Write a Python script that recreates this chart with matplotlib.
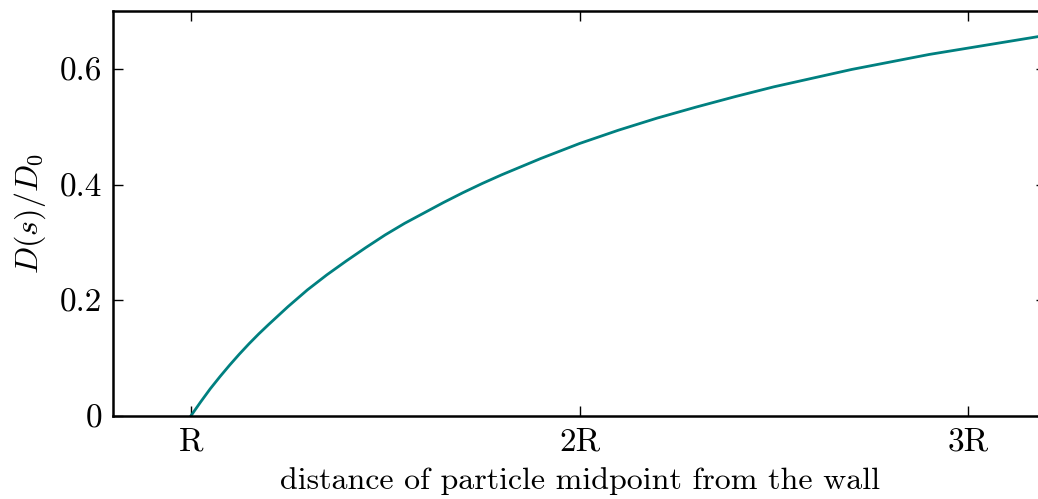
import numpy as np
import matplotlib.pyplot as plt

plt.rcParams['mathtext.fontset'] = 'cm'
plt.rcParams['font.family'] = 'serif'
plt.rcParams['font.serif'] = ['cmr10', 'DejaVu Serif']
plt.rcParams['axes.unicode_minus'] = False

# distance from the wall (in units of R) and D(s)/D0
s = [1.0, 1.025, 1.05, 1.075, 1.1, 1.125, 1.15, 1.175, 1.2, 1.25, 1.3, 1.35,
     1.4, 1.45, 1.5, 1.55, 1.6, 1.65, 1.7, 1.75, 1.8, 1.85, 1.9, 2.0, 2.1,
     2.2, 2.3, 2.4, 2.5, 2.6, 2.7, 2.8, 2.9, 3.0, 3.1, 3.2]
D = [0.0, 0.024, 0.047, 0.068, 0.088, 0.107, 0.125, 0.142, 0.158, 0.189,
     0.218, 0.244, 0.268, 0.291, 0.313, 0.333, 0.351, 0.369, 0.386, 0.402,
     0.417, 0.431, 0.445, 0.471, 0.494, 0.515, 0.534, 0.552, 0.569, 0.584,
     0.599, 0.612, 0.625, 0.636, 0.647, 0.658]

xticks = [1, 2, 3]
xticklabels = ['R', '2R', '3R']
yticks = [0, 0.2, 0.4, 0.6]
yticklabels = ['0', '0.2', '0.4', '0.6']

fig = plt.figure(figsize=(10.38, 4.99), dpi=100)
ax = fig.add_axes([0.1089, 0.1663, 0.8988, 0.8116])

ax.plot(s, D, color='#008080', lw=2)

ax.set_xlim(0.8, 3.2)
ax.set_ylim(0, 0.7)
ax.set_xticks(xticks)
ax.set_xticklabels(xticklabels)
ax.set_yticks(yticks)
ax.set_yticklabels(yticklabels)
ax.tick_params(direction='in', length=7, width=1, top=True, right=True,
               labelsize=24, pad=8)
for sp in ax.spines.values():
    sp.set_linewidth(1.8)

ax.set_xlabel('distance of particle midpoint from the wall', fontsize=23, labelpad=8)
ax.set_ylabel('$D(s)/D_0$', fontsize=23, labelpad=8)

fig.savefig('out.png', dpi=100)
